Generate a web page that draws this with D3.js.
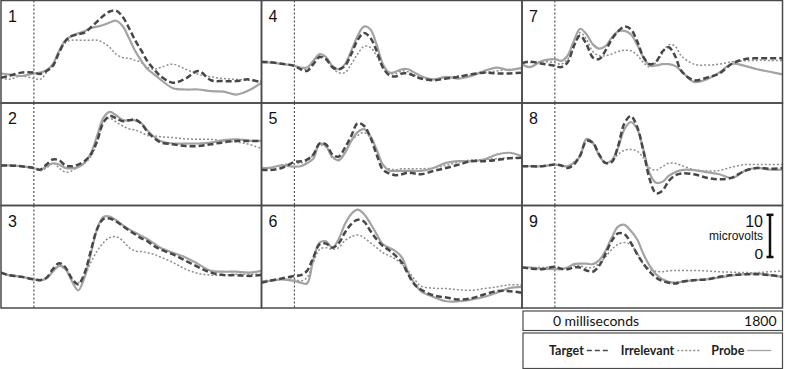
<!DOCTYPE html>
<html>
<head>
<meta charset="utf-8">
<script src="https://cdn.jsdelivr.net/npm/d3@7"></script>
<style>
  body { margin: 0; background: #fff; }
  svg { display: block; }
</style>
</head>
<body>
<script>
// sample times (ms), shared by every waveform
const times = [-260, -200, -100, 0, 50, 100, 150, 200, 250, 300, 350, 400, 450, 500, 550, 600,
  650, 700, 750, 800, 850, 900, 950, 1000, 1100, 1200, 1300, 1400, 1500, 1600, 1700, 1800];

const panelLabels = ["1", "2", "3", "4", "5", "6", "7", "8", "9"];

// microvolts, one row per panel (1..9)
const target = [
  [-3.5,-3.1,-2.3,-2.3,-2.6,-1.9,-0.7,2.5,5.2,6.4,6.8,7.2,8.4,9.8,11.2,12.2,12.4,11.0,8.4,5.4,2.9,0.3,-1.5,-3.1,-4.7,-3.7,-1.9,-4.1,-4.3,-4.3,-3.9,-4.7],
  [0,0,-0.2,-0.6,-1.0,0.2,1.4,1.2,0,-0.2,0.2,1.0,2.6,5.8,10.2,11.7,11.2,10.5,10.7,10.9,9.9,7.9,6.5,5.5,5.0,4.6,4.6,5.0,5.5,5.8,5.8,5.8],
  [-1.1,-1.7,-2.1,-2.7,-2.9,-2.3,-0.3,1.1,0.1,-2.5,-3.9,-1.3,4.0,9.2,11.6,11.7,11.0,10.0,8.9,8.0,7.0,6.3,5.2,4.4,3.2,1.7,0.2,-1.1,-1.7,-1.7,-1.9,-1.7],
  [0.3,0.2,-0.2,-0.7,-1.5,-1.9,-0.3,1.4,0.9,-1.0,-1.5,-0.7,2.1,5.4,7.1,6.0,2.9,-1.1,-2.9,-3.2,-2.5,-2.5,-3.1,-3.7,-4.1,-3.7,-3.3,-2.7,-2.3,-2.5,-2.5,-2.3],
  [-1.0,-1.1,-0.6,0.8,1.0,1.4,2.6,5.2,5.0,2.6,2.1,4.2,7.0,10.0,9.4,6.7,2.6,-1.0,-1.9,-2.3,-2.1,-1.7,-1.9,-2.1,-1.3,-0.6,0.2,1.0,1.0,1.3,1.7,1.8],
  [-3.5,-3.1,-2.5,-1.9,-1.7,-0.7,2.5,5.6,5.8,4.8,5.8,8.4,10.4,11.4,11.0,8.8,6.8,5.2,4.2,2.9,1.3,-1.5,-3.9,-5.1,-6.5,-7.0,-7.5,-7.2,-6.3,-5.5,-5.5,-5.9],
  [-0.1,0.3,-0.2,-0.7,-1.0,0.1,4.0,6.5,4.4,1.3,0.9,2.9,5.6,7.5,8.6,8.0,5.2,1.4,-0.3,0.3,2.7,3.7,1.7,-1.9,-4.1,-3.5,-2.5,-0.2,0.9,1.1,1.1,1.1],
  [-0.2,-0.2,-0.2,0.2,0,-0.6,0.2,2.4,5.8,5.4,2.6,0.6,0.8,4.6,10.0,11.7,9.2,3.4,-3.3,-6.6,-6.0,-3.7,-2.4,-1.9,-2.1,-2.9,-3.3,-2.9,-1.3,-0.6,-0.8,-0.6],
  [0.1,-0.1,-0.3,0.3,-0.2,-0.3,0.1,0.1,-0.6,-0.9,0.5,3.3,6.4,8.2,8.0,6.0,3.3,1.0,-0.9,-2.3,-3.1,-3.5,-3.7,-3.3,-2.9,-2.7,-2.1,-1.7,-1.5,-1.5,-1.7,-2.1]
];

const irrelevant = [
  [-3.5,-3.9,-3.1,-3.7,-3.9,-2.3,-0.3,2.9,4.8,5.4,5.4,5.4,5.4,5.4,4.8,3.7,2.1,1.3,1.1,0.6,0.1,-1.1,-1.5,-1.1,-0.3,-1.5,-2.7,-3.3,-3.7,-3.9,-4.1,-4.3],
  [0,0,-0.2,-0.8,-1.3,-0.6,0.6,-0.6,-1.6,-1.3,-0.2,0.5,2.1,5.4,10.5,11.2,10.3,9.4,8.7,8.4,7.8,7.1,7.0,6.8,6.6,6.3,6.2,6.2,5.8,5.6,5.0,4.0],
  [-1.1,-1.7,-2.1,-2.7,-2.9,-2.5,-0.7,0.7,-0.1,-2.7,-3.5,-1.9,1.3,4.0,6.0,7.2,7.4,6.5,4.9,4.0,3.9,3.6,3.2,2.6,1.3,-0.3,-1.3,-1.7,-1.7,-1.5,-1.5,-1.5],
  [0.3,0.1,-0.3,-0.7,-1.5,-1.5,0.1,1.7,1.1,-1.1,-2.3,-2.3,-0.3,2.1,3.9,3.7,1.7,-1.1,-2.5,-2.5,-1.9,-2.1,-2.9,-3.5,-3.9,-3.5,-3.1,-2.9,-2.3,-1.9,-1.5,-1.5],
  [-0.6,-0.6,0.1,0.4,0.6,1.0,2.6,4.8,4.4,1.8,1.4,3.0,5.8,7.1,7.8,6.6,3.4,0,-0.8,-1.0,-0.8,-0.8,-0.8,-0.8,-0.6,0,0.8,1.3,1.4,1.6,1.8,1.8],
  [-3.1,-2.9,-2.7,-2.7,-3.1,-2.3,1.3,4.4,4.8,4.4,4.8,6.5,7.4,7.8,7.2,6.0,4.8,3.6,2.9,2.1,0.9,-0.7,-2.7,-4.3,-4.8,-4.9,-5.2,-5.3,-4.9,-4.5,-4.0,-4.0],
  [0.1,0.1,0.3,0.1,-0.3,0.9,3.6,7.2,5.6,2.7,1.7,1.7,2.1,2.7,3.0,2.9,1.9,0.1,-1.0,0.1,2.2,4.3,4.0,1.7,-0.3,-0.5,-0.3,0.3,0.5,0.6,0.6,0.6],
  [-0.2,-0.2,-0.2,0.2,0,-0.2,0.8,2.4,6.2,5.2,2.4,0.6,1.2,2.6,3.6,3.8,3.4,1.8,-0.6,-1.1,-0.3,0.5,0.5,0,-1.0,-1.3,-1.2,-0.4,0.2,0.2,0.2,0.2],
  [0.2,0.1,0.1,0.1,-0.3,0.1,0.5,0.5,0.1,0.1,1.0,2.6,4.4,5.6,6.0,5.5,3.6,0.9,-0.3,-0.8,-0.9,-0.7,-0.6,-0.6,-0.6,-0.7,-0.9,-1.0,-1.1,-1.1,-0.9,-0.7]
];

const probe = [
  [-2.5,-2.7,-3.1,-2.5,-2.3,-1.7,-0.3,2.9,5.4,6.4,7.0,7.5,8.3,8.6,9.0,9.6,10.0,8.8,6.0,2.9,0.5,-1.5,-2.7,-3.9,-6.0,-6.3,-6.3,-6.7,-6.8,-7.5,-6.5,-4.7],
  [0,0,-0.2,-0.6,-1.1,-0.2,0.5,0.2,-0.6,-0.7,-0.4,0.6,2.8,7.0,11.3,12.7,11.9,10.8,10.6,10.7,10.0,8.2,6.8,5.8,5.2,5.2,5.2,5.4,6.0,6.2,5.9,5.8],
  [-1.1,-1.7,-2.1,-2.7,-2.9,-2.5,-0.9,0.5,-0.3,-3.1,-5.3,-2.3,3.3,9.2,12.1,12.2,11.3,10.2,9.2,8.4,7.6,6.8,5.8,4.8,3.6,2.5,0.9,-0.7,-0.9,-0.9,-1.1,-0.7],
  [0.1,0.1,-0.2,-0.7,-1.1,-1.1,0.5,2.1,1.4,-0.7,-1.5,-0.3,2.9,6.4,8.6,8.0,4.4,-0.3,-2.3,-2.1,-1.5,-1.5,-2.3,-3.1,-3.9,-3.3,-3.7,-3.1,-1.9,-1.1,-1.7,-1.1],
  [-0.6,-0.6,0,-0.3,-0.2,0.5,1.6,5.2,4.6,2.1,1.2,3.0,5.8,7.9,8.6,7.0,3.8,0.2,-1.2,-1.3,-1.3,-1.3,-1.3,-1.3,-0.6,0.6,1.0,1.0,1.4,2.6,3.0,2.2],
  [-3.1,-3.1,-2.7,-3.1,-3.5,-3.7,2.1,6.0,6.3,4.8,6.8,10.4,12.8,13.8,12.8,10.6,8.0,5.6,4.8,4.0,2.5,-1.1,-3.7,-5.5,-6.9,-7.9,-7.9,-7.5,-6.9,-5.9,-4.8,-4.5],
  [-0.3,-1.0,0.5,0.9,0.5,1.7,5.2,8.1,6.8,4.4,3.4,4.0,6.0,7.5,7.6,6.8,4.4,1.3,-0.6,-0.6,-0.3,-0.3,-0.7,-1.9,-4.5,-3.9,-2.3,-0.2,-0.7,-1.5,-2.1,-2.7],
  [-0.2,-0.2,-0.2,0.2,0,-0.2,0.6,2.2,6.3,5.4,2.4,0.6,1.2,4.2,8.6,10.3,8.7,3.8,-1.9,-4.1,-3.9,-2.5,-1.6,-1.1,-1.1,-1.6,-2.1,-3.0,-1.3,-0.6,-1.0,-1.0],
  [0.2,0.1,-0.2,-0.3,-0.3,0.1,0.9,1.0,1.0,0.9,1.8,4.0,7.2,9.8,10.2,8.8,6.8,3.3,0.5,-1.5,-2.7,-3.3,-3.5,-3.3,-2.9,-2.7,-2.3,-1.8,-1.5,-1.3,-1.7,-2.1]
];

const timeTicks = [0, 1800];
const timeUnit = "milliseconds";
const barTicks = [0, 10];
const barUnit = "microvolts";
const legendNames = ["Target", "Irrelevant", "Probe"];

const W = 785, H = 369;
const panelW = 260.5, panelH = 102.5;
const colX = [1, 261.5, 522];
const rowY = [0.5, 103, 205.5];
const frame = "#4a4a4a";

const series = [
  { name: legendNames[1], values: irrelevant, color: "#8e8e8e", width: 1.5, dash: "2,2" },
  { name: legendNames[2], values: probe, color: "#a3a3a3", width: 2.2, dash: null },
  { name: legendNames[0], values: target, color: "#474747", width: 2.5, dash: "6,3" }
];

const svg = d3.select("body").append("svg")
  .attr("width", W)
  .attr("height", H)
  .style("font-family", "'Liberation Sans', Arial, sans-serif");

const defs = svg.append("defs");

let panelScales = [];

panelLabels.forEach((label, i) => {
  const col = Math.floor(i / 3), row = i % 3;
  const x0 = colX[col], y0 = rowY[row];

  const x = d3.scaleLinear().domain([-260, 1800]).range([x0, x0 + panelW]);
  const y = d3.scaleLinear().domain([-9.5, 14.8]).range([y0 + panelH, y0]);
  panelScales.push({ x, y, x0, y0 });

  defs.append("clipPath").attr("id", "clip" + i)
    .append("rect")
    .attr("x", x0).attr("y", y0)
    .attr("width", panelW).attr("height", panelH);

  const g = svg.append("g");

  // stimulus onset
  g.append("line")
    .attr("x1", x(0)).attr("x2", x(0))
    .attr("y1", y0).attr("y2", y0 + panelH)
    .attr("stroke", "#333")
    .attr("stroke-width", 1)
    .attr("stroke-dasharray", "2,2");

  const line = d3.line()
    .x((d, k) => x(times[k]))
    .y(d => y(d))
    .curve(d3.curveCatmullRom.alpha(0.5));

  const waves = g.append("g").attr("clip-path", `url(#clip${i})`);
  series.forEach(s => {
    waves.append("path")
      .datum(s.values[i])
      .attr("d", line)
      .attr("fill", "none")
      .attr("stroke", s.color)
      .attr("stroke-width", s.width)
      .attr("stroke-dasharray", s.dash);
  });

  g.append("text")
    .attr("x", x0 + 7)
    .attr("y", y0 + 21)
    .attr("font-size", 16)
    .attr("fill", "#111")
    .text(label);

  g.append("rect")
    .attr("x", x0).attr("y", y0)
    .attr("width", panelW).attr("height", panelH)
    .attr("fill", "none")
    .attr("stroke", frame)
    .attr("stroke-width", 1.5);
});

// scale bar in panel 9
const p9 = panelScales[8];
const barLen = p9.y(barTicks[0]) - p9.y(barTicks[1]);
const barX = 770, barBottom = 257;
const bar = svg.append("g").attr("stroke", "#111").attr("stroke-width", 2.5);
bar.append("line").attr("x1", barX).attr("x2", barX).attr("y1", barBottom).attr("y2", barBottom - barLen);
bar.append("line").attr("x1", barX - 3.5).attr("x2", barX + 3.5).attr("y1", barBottom - barLen).attr("y2", barBottom - barLen);
bar.append("line").attr("x1", barX - 3.5).attr("x2", barX + 3.5).attr("y1", barBottom).attr("y2", barBottom);

svg.append("text").attr("x", 763).attr("y", barBottom - barLen + 12)
  .attr("text-anchor", "end").attr("font-size", 16).attr("fill", "#111").text(barTicks[1]);
svg.append("text").attr("x", 763).attr("y", barBottom - barLen + 25.5)
  .attr("text-anchor", "end").attr("font-size", 12).attr("fill", "#111").text(barUnit);
svg.append("text").attr("x", 763).attr("y", barBottom + 1.5)
  .attr("text-anchor", "end").attr("font-size", 15.5).attr("fill", "#111").text(barTicks[0]);

// time box under panel 9
const timeBoxY = rowY[2] + panelH + 3;
svg.append("rect")
  .attr("x", colX[2] + 1).attr("y", timeBoxY)
  .attr("width", panelW - 1).attr("height", 19.5)
  .attr("fill", "none").attr("stroke", frame).attr("stroke-width", 1.2);

svg.append("text")
  .attr("x", p9.x(timeTicks[0]) - 2).attr("y", timeBoxY + 15)
  .attr("font-family", "Lato, 'Open Sans', sans-serif")
  .attr("font-size", 14).attr("fill", "#111")
  .text(timeTicks[0] + " " + timeUnit);
svg.append("text")
  .attr("x", p9.x(timeTicks[1]) - 6).attr("y", timeBoxY + 15)
  .attr("text-anchor", "end")
  .attr("font-family", "Lato, 'Open Sans', sans-serif")
  .attr("font-size", 14).attr("fill", "#111")
  .text(timeTicks[1]);

// legend box
const legY = timeBoxY + 22;
svg.append("rect")
  .attr("x", colX[2] + 1).attr("y", legY)
  .attr("width", panelW - 1).attr("height", H - legY - 0.5)
  .attr("fill", "none").attr("stroke", frame).attr("stroke-width", 1.2);

const legendOrder = [series[2], series[0], series[1]];
let lx = 549;
legendOrder.forEach(s => {
  const t = svg.append("text")
    .attr("x", lx).attr("y", legY + 22)
    .attr("font-family", "Lato, 'Open Sans', sans-serif")
    .attr("font-weight", "bold")
    .attr("font-size", 12.5).attr("fill", "#222")
    .text(s.name);
  lx += t.node().getComputedTextLength() + 3;
  svg.append("line")
    .attr("x1", lx).attr("x2", lx + 24)
    .attr("y1", legY + 17.5).attr("y2", legY + 17.5)
    .attr("stroke", s.color)
    .attr("stroke-width", s.dash === "6,3" ? 1.5 : 1.3)
    .attr("stroke-dasharray", s.dash === "6,3" ? "5,3" : s.dash);
  lx += 24 + 10;
});
</script>
</body>
</html>
